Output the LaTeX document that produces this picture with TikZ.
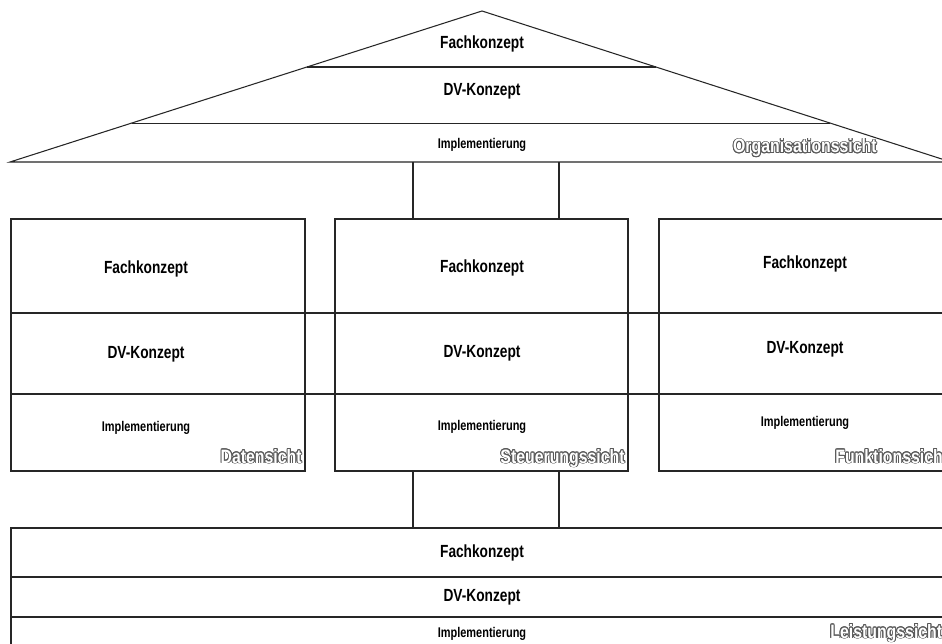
\documentclass[tikz,border=0pt]{standalone}
\usepackage{fontspec}
\usepackage{contour}
\usetikzlibrary{calc}

\newfontfamily\schmal{Liberation Sans}[FakeStretch=0.78]
\newfontfamily\sichtfont{Liberation Sans}[FakeStretch=0.82]
\contourlength{0.5pt}

\tikzset{
  ebene/.style={font=\schmal\bfseries\fontsize{10}{12}\selectfont},
  impl/.style={font=\schmal\bfseries\fontsize{8}{10}\selectfont},
  sicht/.style={font=\sichtfont\bfseries\fontsize{11}{13}\selectfont,
    text=white, inner sep=0pt},
  linie/.style={draw=black!85, line width=0.6pt}
}

\begin{document}
\begin{tikzpicture}[x=0.02cm,y=-0.02cm]

\clip (0,0) rectangle (942,644);
\fill[white] (0,0) rectangle (942,644);

% Dach
\coordinate (spitze) at (482,11);
\coordinate (links) at (10,162);
\coordinate (rechts) at (951,162);

\draw[linie] (links) -- (spitze) -- (rechts) -- cycle;
\draw[linie] ($(spitze)!0.371!(links)$) -- ($(spitze)!0.371!(rechts)$);
\draw[linie] ($(spitze)!0.742!(links)$) -- ($(spitze)!0.742!(rechts)$);

\node[ebene] (dach-fach) at (482,44) {Fachkonzept};
\node[ebene] (dach-dv) at (482,91) {DV-Konzept};
\node[impl] (dach-impl) at (482,145) {Implementierung};
\node[sicht, anchor=base east] (org) at (877,153)
{\contour{black!65}{Organisationssicht}};

% Verbindungen
\foreach \x in {413,559}
{
    \draw[linie] (\x,162) -- (\x,219);
    \draw[linie] (\x,471) -- (\x,528);
}

% Daten, Steuerung, Funktion
\foreach \a/\b in {11/305,335/628,659/960}
{
    \draw[linie] (\a,219) rectangle (\b,471);
}
\draw[linie] (11,313) -- (942,313);
\draw[linie] (11,394) -- (942,394);

\foreach \x/\dy/\name in {146/1/daten,482/0/steuerung,805/-4/funktion}
{
    \node[ebene] (\name-fach) at (\x,268+\dy) {Fachkonzept};
    \node[ebene] (\name-dv) at (\x,353+\dy) {DV-Konzept};
    \node[impl] (\name-impl) at (\x,427+\dy) {Implementierung};
}

\node[sicht, anchor=base east] (datensicht) at (302,463)
{\contour{black!65}{Datensicht}};
\node[sicht, anchor=base east] (steuerungssicht) at (625,463)
{\contour{black!65}{Steuerungssicht}};
\node[sicht, anchor=base west] (funktionssicht) at (835,463)
{\contour{black!65}{Funktionssicht}};

% Leistung
\draw[linie] (11,528) rectangle (960,660);
\draw[linie] (11,577) -- (942,577);
\draw[linie] (11,617) -- (942,617);

\node[ebene] (leistung-fach) at (482,553) {Fachkonzept};
\node[ebene] (leistung-dv) at (482,597) {DV-Konzept};
\node[impl] (leistung-impl) at (482,634) {Implementierung};
\node[sicht, anchor=base west] (leistungssicht) at (830,638)
{\contour{black!65}{Leistungssicht}};

\end{tikzpicture}
\end{document}
